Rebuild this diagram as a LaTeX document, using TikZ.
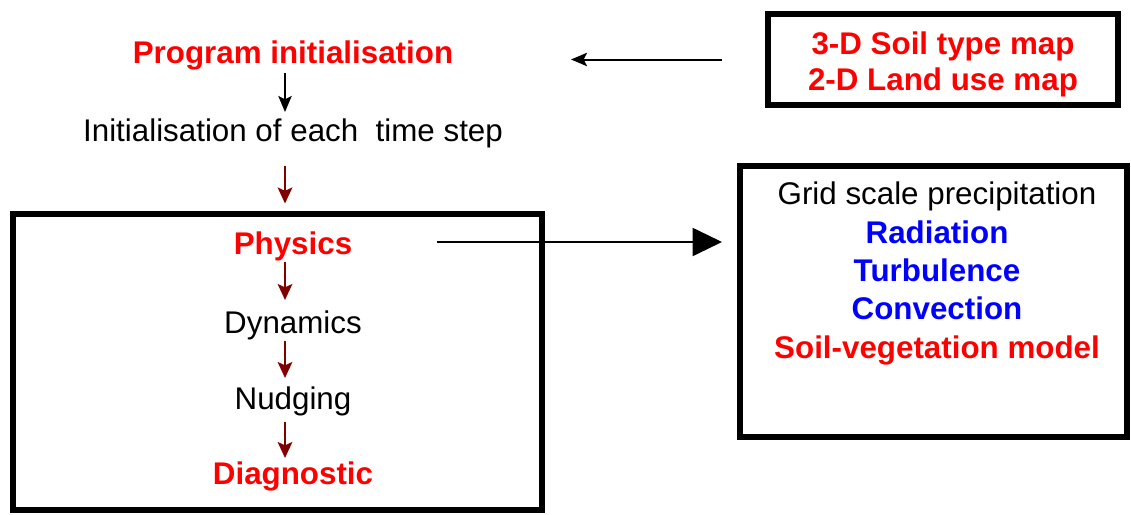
\documentclass[tikz,border=0pt]{standalone}
\usepackage{fontspec}
\setmainfont{Liberation Sans}
\usetikzlibrary{arrows.meta,calc}
\definecolor{dred}{RGB}{128,0,0}
\definecolor{myred}{RGB}{255,0,0}
\definecolor{myblue}{RGB}{0,0,255}
\begin{document}
\begin{tikzpicture}[x=0.75pt,y=-0.75pt,
  txt/.style={inner sep=0pt,anchor=base,font=\fontsize{23.5}{28}\selectfont},
  redb/.style={txt,text=myred,font=\fontsize{23.5}{28}\selectfont\bfseries},
  blueb/.style={txt,text=myblue,font=\fontsize{23.5}{28}\selectfont\bfseries},
  thickbox/.style={draw=black,line width=4.5pt,inner sep=0pt},
  blackarr/.style={draw=black,line width=1.5pt,-{Stealth[length=12pt,width=10pt,inset=2.5pt]}},
  darr/.style={draw=dred,line width=1.5pt,-{Stealth[length=12pt,width=11pt,inset=2.5pt]}},
  bigarr/.style={draw=black,line width=1.5pt,-{Triangle[length=22pt,width=21pt]}}
]
\useasboundingbox (0,0) rectangle (1131,514);
% boxes
\node[thickbox,minimum width=529.5*0.75pt,minimum height=296.5*0.75pt] (leftbox) at (277.25,361.75) {};
\node[thickbox,minimum width=387*0.75pt,minimum height=271*0.75pt] (rightbox) at (933.5,301.5) {};
\node[thickbox,minimum width=350*0.75pt,minimum height=91*0.75pt] (topbox) at (943,59.5) {};
% left column
\node[redb] (prog) at (293,63) {Program initialisation};
\node[txt] (init) at (293,141) {Initialisation of each~ time step};
\node[redb] (phys) at (293,254) {Physics};
\node[txt] (dyn) at (293,333) {Dynamics};
\node[txt] (nudg) at (293,409) {Nudging};
\node[redb] (diag) at (293,484) {Diagnostic};
% top box text
\node[redb] (soil) at (943,54) {3-D Soil type map};
\node[redb] (land) at (943,90) {2-D Land use map};
% right box text
\node[txt] (grid) at (937,204) {Grid scale precipitation};
\node[blueb] (rad) at (937,243) {Radiation};
\node[blueb] (turb) at (937,281) {Turbulence};
\node[blueb] (conv) at (937,319) {Convection};
\node[redb] (soilveg) at (937,358) {Soil-vegetation model};
% connectors
\draw[blackarr] ($(prog.base)+(-8,10)$) -- ($(init.base)+(-8,-29)$);
\draw[darr] ($(init.base)+(-8,25)$) -- ($(leftbox.north -| init.base)+(-8,-7)$);
\draw[darr] ($(phys.base)+(-8,8)$) -- ($(dyn.base)+(-8,-33)$);
\draw[darr] ($(dyn.base)+(-8,8)$) -- ($(nudg.base)+(-8,-31)$);
\draw[darr] ($(nudg.base)+(-8,13)$) -- ($(diag.base)+(-8,-26)$);
\draw[bigarr] ($(phys.base)+(144,-12)$) -- ($(rightbox.west|-phys.base)+(-15,-12)$);
\draw[blackarr] ($(topbox.west)+(-43,0)$) -- ($(topbox.west)+(-194,0)$);
\end{tikzpicture}
\end{document}
